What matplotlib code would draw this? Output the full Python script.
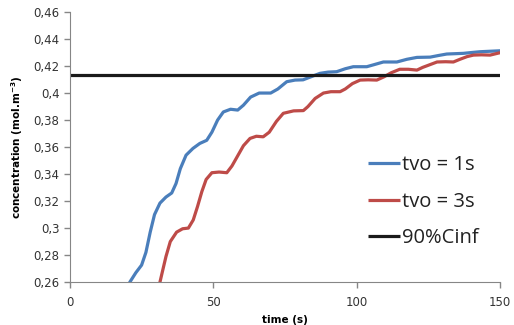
import matplotlib
matplotlib.use("Agg")
import matplotlib.pyplot as plt
from matplotlib.ticker import FuncFormatter, MultipleLocator

# values
t_1s = [19, 20.9, 23, 25, 26.5, 28, 29.5, 31.4, 33.5, 35.5, 37, 38.5, 40.5, 42.9,
        45.3, 47.7, 49.5, 51.5, 53.5, 56, 58.5, 60.5, 63, 66, 70, 72.5, 75.6,
        78.5, 81.3, 84, 87.2, 90, 93, 96, 98.8, 103.5, 106, 109.3, 114, 117.5,
        121, 125.6, 128.5, 131.4, 137.2, 140, 143, 150]
c_1s = [0.25, 0.26, 0.267, 0.2726, 0.282, 0.297, 0.31, 0.3185, 0.323, 0.326, 0.333,
        0.344, 0.354, 0.359, 0.3627, 0.365, 0.371, 0.38, 0.386, 0.388, 0.3874,
        0.391, 0.397, 0.4, 0.4, 0.403, 0.4084, 0.4096, 0.4098, 0.412, 0.4146,
        0.4155, 0.4158, 0.418, 0.4195, 0.4195, 0.421, 0.423, 0.423, 0.425, 0.4264,
        0.4266, 0.4278, 0.4289, 0.4294, 0.43, 0.4306, 0.4313]

t_3s = [30.5, 31.4, 32.5, 33.5, 35, 37.2, 39.3, 41.3, 43, 44.5, 46, 47.5, 49.5, 52,
        54.7, 56.5, 58.1, 60.5, 62.8, 65, 67.4, 69.5, 72, 74.4, 78, 81.4, 83,
        85.5, 88.4, 91, 94.2, 96, 98.5, 101.2, 104, 107, 109.5, 112, 115, 118,
        121, 123, 125.5, 128, 131, 133.7, 136, 138.5, 140.7, 143.5, 146.5, 150]
c_3s = [0.25, 0.26, 0.27, 0.279, 0.29, 0.297, 0.2995, 0.3, 0.306, 0.316, 0.327,
        0.336, 0.341, 0.3415, 0.341, 0.346, 0.352, 0.361, 0.3664, 0.368, 0.3676,
        0.371, 0.379, 0.385, 0.3868, 0.387, 0.39, 0.396, 0.4, 0.401, 0.401, 0.403,
        0.407, 0.4096, 0.4098, 0.4096, 0.412, 0.415, 0.4176, 0.4176, 0.417, 0.419,
        0.421, 0.423, 0.4232, 0.423, 0.425, 0.427, 0.4281, 0.4283, 0.4281, 0.4299]

t_inf = [0, 150]
c_inf = [0.413, 0.413]

fig = plt.figure(figsize=(5.14, 3.25), dpi=100)
ax = fig.add_axes([0.136, 0.132, 0.837, 0.831])

kw = dict(lw=2.3, solid_joinstyle="round", solid_capstyle="butt")
ax.plot(t_1s, c_1s, color="#4A7EBB", label="tvo = 1s", **kw)
ax.plot(t_3s, c_3s, color="#BE4B48", label="tvo = 3s", **kw)
ax.plot(t_inf, c_inf, color="#1a1a1a", label="90%Cinf", **kw)

ax.set_xlim(0, 150)
ax.set_ylim(0.26, 0.46)
ax.xaxis.set_major_locator(MultipleLocator(50))
ax.yaxis.set_major_locator(MultipleLocator(0.02))
ax.yaxis.set_major_formatter(FuncFormatter(lambda v, p: f"{v:.2f}".rstrip("0").replace(".", ",")))

for s in ["top", "right"]:
    ax.spines[s].set_visible(False)
for s in ["left", "bottom"]:
    ax.spines[s].set_color("#868686")
ax.tick_params(colors="#868686", labelcolor="#333333", labelsize=8.5, length=4, width=1)
ax.tick_params(axis="x", pad=6)

ax.set_xlabel("time (s)", fontsize=7.5, fontweight="bold", labelpad=4)
ax.set_ylabel("concentration (mol.m$^{\\mathbf{-3}}$)", fontsize=7.5, fontweight="bold", labelpad=6)

leg = ax.legend(loc="center left", bbox_to_anchor=(0.693, 0.297), frameon=False,
                handlelength=1.6, handletextpad=0.1, labelspacing=0.82,
                borderpad=0, borderaxespad=0,
                prop={"family": "Open Sans", "size": 14.5})
for txt in leg.get_texts():
    txt.set_color("#222222")

fig.savefig("out.png", dpi=100)
